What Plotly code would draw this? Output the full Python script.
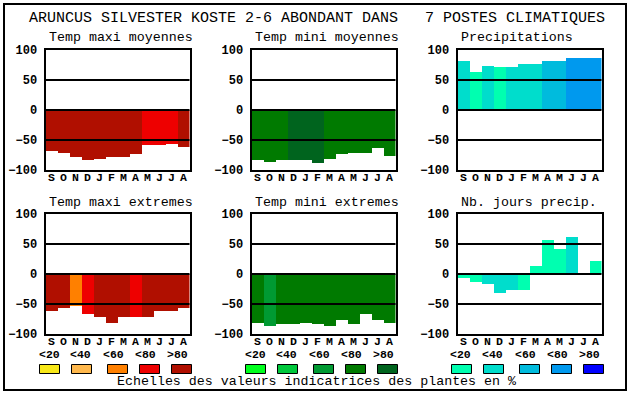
import plotly.graph_objects as go

W, H = 630, 394

months = ["S", "O", "N", "D", "J", "F", "M", "A", "M", "J", "J", "A"]

# colour scales (<20, <40, <60, <80, >80)
red_scale = ["#F8E818", "#FFB84C", "#FF8000", "#EE0000", "#B00F00"]
green_scale = ["#00FF1E", "#00C83C", "#009A32", "#007A00", "#00641E"]
blue_scale = ["#00FFB0", "#00DDCC", "#00BBDD", "#0099EE", "#0000FF"]
scale_labels = ["<20", "<40", "<60", "<80", ">80"]

title_text = "ARUNCUS SILVESTER KOSTE 2-6 ABONDANT DANS\u00a0\u00a0\u00a07 POSTES CLIMATIQUES"
caption_text = "Echelles des valeurs indicatrices des plantes en %"

# panel data
tmax_moy = [-68, -71, -78, -83, -81, -78, -78, -74, -58, -58, -56, -61]
tmax_moy_cls = [4, 4, 4, 4, 4, 4, 4, 4, 3, 3, 3, 4]

tmin_moy = [-84, -86, -84, -84, -83, -88, -81, -74, -71, -71, -64, -76]
tmin_moy_cls = [3, 3, 3, 4, 4, 4, 3, 3, 3, 3, 3, 3]

precip = [82, 64, 74, 71, 72, 76, 76, 81, 81, 87, 86, 86]
precip_cls = [1, 0, 1, 0, 1, 1, 1, 2, 2, 3, 3, 3]

tmax_ext = [-61, -56, -54, -66, -72, -81, -71, -71, -71, -61, -62, -56]
tmax_ext_cls = [4, 4, 2, 3, 4, 4, 4, 3, 4, 4, 4, 4]

tmin_ext = [-81, -86, -84, -84, -82, -84, -86, -77, -84, -67, -77, -81]
tmin_ext_cls = [3, 2, 3, 3, 3, 3, 3, 3, 3, 3, 3, 3]

nb_jours = [-6, -14, -17, -31, -26, -26, 13, 56, 41, 62, 0, 22]
nb_jours_cls = [0, 0, 1, 1, 1, 0, 0, 0, 0, 1, 0, 0]

panels = [
    ("Temp maxi moyennes", tmax_moy, tmax_moy_cls, red_scale),
    ("Temp mini moyennes", tmin_moy, tmin_moy_cls, green_scale),
    ("Precipitations", precip, precip_cls, blue_scale),
    ("Temp maxi extremes", tmax_ext, tmax_ext_cls, red_scale),
    ("Temp mini extremes", tmin_ext, tmin_ext_cls, green_scale),
    ("Nb. jours precip.", nb_jours, nb_jours_cls, blue_scale),
]

lefts = [45.5, 251.5, 457.5]
pw = 144
tops = [50, 214]
ph = 120

MONO = "Liberation Mono"

fig = go.Figure()
layout = dict(
    width=W, height=H, margin=dict(l=0, r=0, t=0, b=0, autoexpand=False),
    paper_bgcolor="white", plot_bgcolor="white", showlegend=False,
    bargap=0,
)
shapes = []
annotations = []

def px(x):
    return x / W

def py(y):
    return 1 - y / H

for i, (ttl, vals, cls, sc) in enumerate(panels):
    r, c = divmod(i, 3)
    n = i + 1
    xa = "x" if n == 1 else f"x{n}"
    ya = "y" if n == 1 else f"y{n}"
    fig.add_trace(go.Bar(
        x=list(range(12)), y=vals, width=1,
        marker=dict(color=[sc[k] for k in cls], line=dict(width=0)),
        xaxis=xa, yaxis=ya, hoverinfo="skip",
    ))
    x0, y0 = lefts[c], tops[r]
    layout[f"xaxis{'' if n == 1 else n}"] = dict(
        domain=[px(x0), px(x0 + pw)], anchor=ya, range=[-0.5, 11.5],
        tickmode="array", tickvals=list(range(12)), ticktext=months,
        showgrid=False, zeroline=False, showline=True, mirror=True,
        linecolor="black", linewidth=2, ticks="", ticklen=0,
        ticklabelstandoff=-5,
        tickfont=dict(family=MONO, size=11.5, color="black", weight="bold"),
        fixedrange=True, automargin=False,
    )
    layout[f"yaxis{'' if n == 1 else n}"] = dict(
        domain=[py(y0 + ph), py(y0)], anchor=xa, range=[-100, 100],
        tickmode="array", tickvals=[-100, -50, 0, 50, 100],
        showgrid=False, zeroline=False, showline=True, mirror=True,
        linecolor="black", linewidth=2, ticks="outside", ticklen=4,
        tickcolor="white",
        tickfont=dict(family=MONO, size=12, color="black", weight="bold"),
        fixedrange=True, automargin=False,
    )
    for v in (-50, 0, 50):
        shapes.append(dict(
            type="line", xref=f"{xa} domain", yref=ya, x0=0, x1=1, y0=v, y1=v,
            line=dict(color="black", width=2), layer="above",
        ))
    annotations.append(dict(
        text=ttl, x=px(x0 + 1), y=py(y0 - 12), xref="paper", yref="paper",
        xanchor="left", yanchor="middle", showarrow=False,
        font=dict(family=MONO, size=13.3, color="black"),
    ))
    if r == 1:
        lab_off = [3.5, 34.5, 67.5, 100, 132]
        box_off = [-6, 26, 62, 94, 126]
        for k in range(5):
            annotations.append(dict(
                text=scale_labels[k], x=px(x0 + lab_off[k]), y=py(354.5),
                xref="paper", yref="paper", xanchor="center", yanchor="middle",
                showarrow=False,
                font=dict(family=MONO, size=11.5, color="black", weight="bold"),
            ))
            shapes.append(dict(
                type="rect", xref="paper", yref="paper",
                x0=px(x0 + box_off[k]), x1=px(x0 + box_off[k] + 20),
                y0=py(373.5), y1=py(364.5),
                fillcolor=sc[k], line=dict(color="black", width=1),
            ))

annotations.append(dict(
    text=title_text, x=px(27), y=py(18), xref="paper", yref="paper",
    xanchor="left", yanchor="middle", showarrow=False,
    font=dict(family=MONO, size=15, color="black"),
))
annotations.append(dict(
    text=caption_text, x=px(316), y=py(381), xref="paper", yref="paper",
    xanchor="center", yanchor="middle", showarrow=False,
    font=dict(family=MONO, size=13.3, color="black"),
))
shapes.append(dict(
    type="rect", xref="paper", yref="paper",
    x0=px(4), x1=px(626), y0=py(390), y1=py(4),
    line=dict(color="black", width=2), fillcolor="rgba(0,0,0,0)",
))

layout["shapes"] = shapes
layout["annotations"] = annotations
fig.update_layout(**layout)

page_fix = (
    "document.body.style.margin='0';document.body.style.padding='0';"
)
fig.write_html(
    "out.html",
    config={"displayModeBar": False},
    post_script=page_fix,
)
